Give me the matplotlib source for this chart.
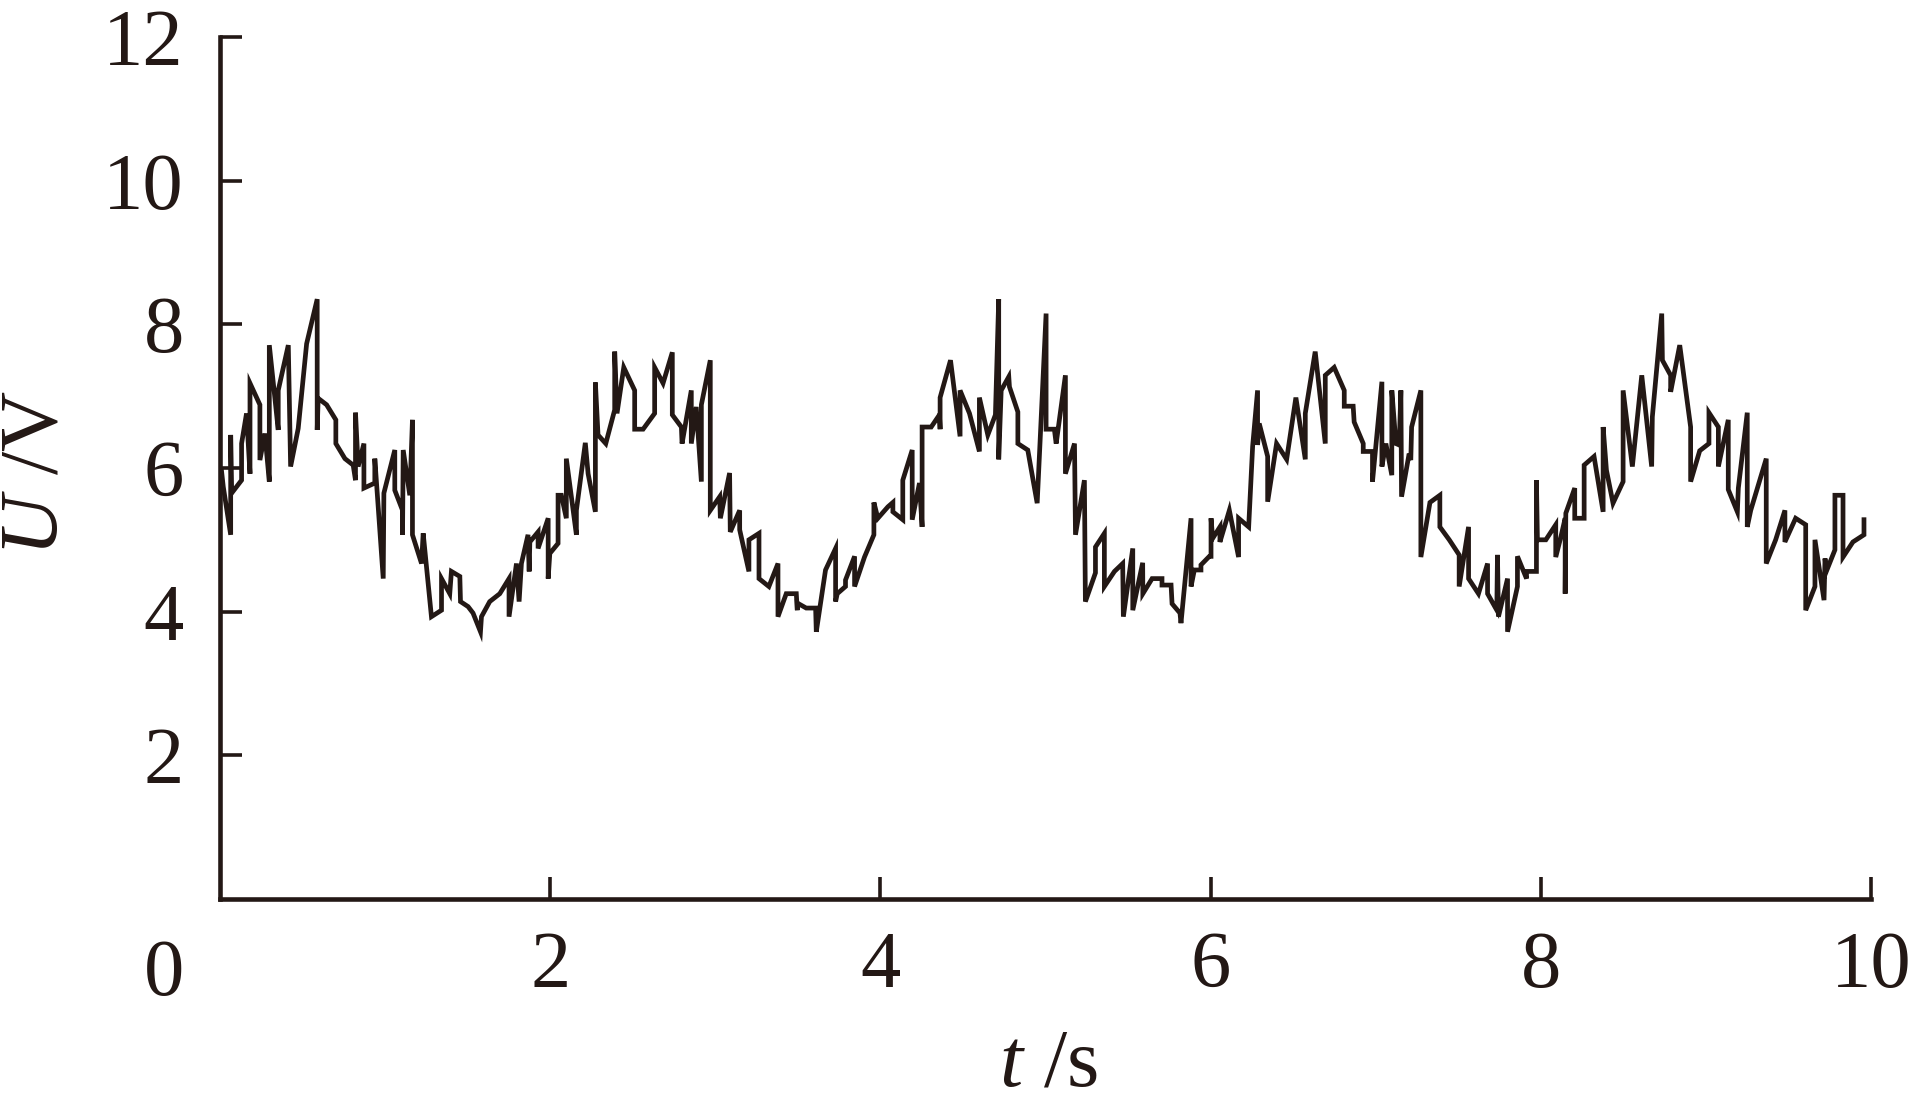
import matplotlib
matplotlib.use("Agg")
import matplotlib.pyplot as plt

plt.rcParams['font.family'] = ['Liberation Serif', 'DejaVu Serif']
plt.rcParams['mathtext.fontset'] = 'custom'
plt.rcParams['mathtext.rm'] = 'Liberation Serif'
plt.rcParams['mathtext.it'] = 'Liberation Serif:italic'

INK = '#231815'

# time (s)
t = [0.01, 0.02, 0.065, 0.065, 0.071, 0.131, 0.131, 0.161, 0.182, 0.182, 0.242, 0.242, 0.272, 0.299, 0.299,
     0.353, 0.353, 0.414, 0.42, 0.428, 0.474, 0.525, 0.589, 0.589, 0.595, 0.646, 0.702, 0.702, 0.757, 0.807,
     0.821, 0.821, 0.837, 0.872, 0.872, 0.938, 0.938, 0.989, 0.993, 1.059, 1.059, 1.106, 1.106, 1.110, 1.150,
     1.166, 1.166, 1.221, 1.231, 1.281, 1.342, 1.342, 1.392, 1.402, 1.453, 1.457, 1.503, 1.533, 1.578, 1.584,
     1.634, 1.695, 1.751, 1.751, 1.796, 1.812, 1.826, 1.866, 1.873, 1.877, 1.927, 1.927, 1.988, 1.988, 1.998,
     2.048, 2.048, 2.068, 2.098, 2.098, 2.159, 2.159, 2.213, 2.230, 2.274, 2.274, 2.290, 2.337, 2.391, 2.391,
     2.405, 2.446, 2.512, 2.512, 2.563, 2.633, 2.633, 2.684, 2.740, 2.740, 2.795, 2.799, 2.855, 2.855, 2.885,
     2.916, 2.916, 2.970, 2.970, 3.027, 3.031, 3.087, 3.091, 3.148, 3.148, 3.204, 3.204, 3.265, 3.265, 3.325,
     3.380, 3.380, 3.430, 3.491, 3.497, 3.497, 3.551, 3.608, 3.612, 3.668, 3.729, 3.729, 3.739, 3.789, 3.789,
     3.844, 3.844, 3.904, 3.961, 3.961, 3.985, 4.046, 4.076, 4.076, 4.136, 4.136, 4.193, 4.193, 4.237, 4.253,
     4.253, 4.308, 4.358, 4.362, 4.362, 4.425, 4.483, 4.483, 4.540, 4.600, 4.600, 4.651, 4.697, 4.717, 4.717,
     4.732, 4.778, 4.782, 4.833, 4.833, 4.893, 4.950, 5.004, 5.004, 5.054, 5.065, 5.121, 5.121, 5.176, 5.182,
     5.236, 5.242, 5.303, 5.303, 5.357, 5.357, 5.418, 5.468, 5.472, 5.529, 5.529, 5.589, 5.590, 5.646, 5.706,
     5.706, 5.761, 5.767, 5.815, 5.821, 5.882, 5.882, 5.902, 5.942, 5.942, 5.993, 6.003, 6.003, 6.013, 6.057,
     6.057, 6.114, 6.170, 6.170, 6.231, 6.255, 6.285, 6.285, 6.295, 6.346, 6.346, 6.400, 6.461, 6.517, 6.574,
     6.574, 6.634, 6.695, 6.695, 6.749, 6.810, 6.810, 6.864, 6.870, 6.925, 6.925, 6.981, 6.981, 7.038, 7.038,
     7.062, 7.098, 7.098, 7.123, 7.143, 7.153, 7.157, 7.203, 7.213, 7.218, 7.274, 7.274, 7.329, 7.389, 7.389,
     7.446, 7.506, 7.506, 7.563, 7.563, 7.623, 7.678, 7.678, 7.734, 7.738, 7.744, 7.799, 7.799, 7.859, 7.859,
     7.914, 7.914, 7.974, 7.974, 7.980, 8.031, 8.091, 8.091, 8.122, 8.148, 8.148, 8.152, 8.206, 8.206, 8.263,
     8.263, 8.323, 8.378, 8.378, 8.398, 8.438, 8.499, 8.499, 8.555, 8.612, 8.672, 8.676, 8.733, 8.737, 8.787,
     8.787, 8.842, 8.908, 8.908, 8.963, 9.019, 9.019, 9.076, 9.076, 9.136, 9.136, 9.191, 9.197, 9.251, 9.251,
     9.272, 9.366, 9.366, 9.423, 9.479, 9.479, 9.544, 9.605, 9.605, 9.661, 9.661, 9.716, 9.722, 9.730, 9.782,
     9.782, 9.831, 9.831, 9.891, 9.958, 9.958]

# voltage (V)
u = [5.95, 5.74, 5.07, 6.46, 5.65, 5.83, 6.34, 6.76, 5.92, 7.18, 6.88, 6.11, 6.48, 5.81, 7.71,
     6.53, 7.08, 7.71, 6.97, 6.02, 6.55, 7.73, 8.35, 6.53, 6.97, 6.88, 6.67, 6.34, 6.13, 6.04,
     5.83, 6.77, 6.02, 6.34, 5.72, 5.79, 6.13, 4.46, 5.65, 6.25, 5.69, 5.41, 5.07, 6.25, 5.62,
     6.67, 5.07, 4.67, 5.09, 3.93, 4.02, 4.46, 4.25, 4.56, 4.49, 4.14, 4.07, 3.98, 3.72, 3.93,
     4.14, 4.25, 4.46, 3.93, 4.67, 4.14, 4.67, 5.07, 4.56, 4.97, 5.11, 4.88, 5.30, 4.46, 4.81,
     4.95, 5.62, 5.62, 5.30, 6.13, 5.07, 5.41, 6.35, 5.92, 5.39, 7.19, 6.46, 6.34, 6.81, 7.62,
     6.76, 7.40, 7.08, 6.54, 6.54, 6.76, 7.40, 7.18, 7.61, 6.74, 6.57, 6.34, 7.08, 6.34, 6.85,
     5.81, 6.88, 7.50, 5.41, 5.60, 5.30, 5.93, 5.11, 5.41, 5.14, 4.56, 5.00, 5.09, 4.46, 4.35,
     4.67, 3.93, 4.25, 4.25, 4.02, 4.12, 4.05, 4.05, 3.72, 4.58, 4.88, 4.14, 4.25, 4.35, 4.44,
     4.77, 4.35, 4.76, 5.07, 5.52, 5.30, 5.46, 5.52, 5.39, 5.28, 5.83, 6.25, 5.28, 5.79, 5.18,
     6.57, 6.57, 6.74, 6.54, 6.98, 7.50, 6.44, 7.08, 6.76, 6.23, 6.98, 6.46, 6.74, 8.35, 6.12,
     7.08, 7.27, 7.13, 6.78, 6.34, 6.25, 5.51, 8.15, 6.54, 6.54, 6.34, 7.29, 5.92, 6.34, 5.07,
     5.83, 4.14, 4.54, 4.90, 5.09, 4.35, 4.56, 4.67, 3.93, 4.88, 4.02, 4.68, 4.25, 4.46, 4.46,
     4.37, 4.37, 4.11, 3.98, 3.84, 5.30, 4.35, 4.58, 4.58, 4.65, 4.77, 4.77, 5.30, 5.02, 5.18,
     4.97, 5.41, 4.76, 5.30, 5.18, 6.30, 7.08, 6.32, 6.62, 6.16, 5.53, 6.34, 6.12, 6.98, 6.12,
     6.76, 7.62, 6.34, 7.29, 7.40, 7.08, 6.86, 6.86, 6.64, 6.34, 6.23, 6.23, 5.81, 7.20, 6.02,
     6.34, 5.90, 7.08, 6.34, 6.32, 7.08, 5.60, 6.20, 6.11, 6.57, 7.08, 4.76, 5.52, 5.62, 5.18,
     5.00, 4.79, 4.35, 5.18, 4.46, 4.25, 4.67, 4.25, 4.02, 4.79, 3.93, 4.46, 3.72, 4.35, 4.77,
     4.46, 4.56, 4.56, 5.83, 5.00, 5.00, 5.21, 4.76, 5.04, 5.30, 4.25, 5.37, 5.72, 5.30, 5.30,
     6.04, 6.16, 5.39, 6.57, 5.97, 5.51, 5.81, 7.08, 6.02, 7.29, 6.02, 6.71, 8.15, 7.50, 7.29,
     7.06, 7.71, 6.57, 5.81, 6.24, 6.34, 6.77, 6.57, 6.02, 6.67, 5.70, 5.39, 5.72, 6.77, 5.18,
     5.41, 6.13, 4.67, 5.00, 5.41, 4.97, 5.30, 5.21, 4.02, 4.35, 5.00, 4.16, 4.74, 4.56, 4.86,
     5.62, 5.62, 4.76, 4.97, 5.07, 5.28]

xticks = [2, 4, 6, 8, 10]
yticks = [2, 4, 6, 8, 10, 12]

fig = plt.figure(figsize=(19.26, 11.01), dpi=100)
ax = fig.add_axes([0.1142, 0.1835, 0.8572, 0.7829])
ax.plot(t, u, color=INK, linewidth=3.4, solid_joinstyle='miter')

ax.set_xlim(0, 10)
ax.set_ylim(0, 12)
ax.set_xticks(xticks)
ax.set_yticks(yticks)
ax.set_xticklabels([str(v) for v in xticks])
ax.set_yticklabels([str(v) for v in yticks])
for s in ['top', 'right']:
    ax.spines[s].set_visible(False)
for s in ['left', 'bottom']:
    ax.spines[s].set_linewidth(3.3)
    ax.spines[s].set_color(INK)
ax.tick_params(axis='both', direction='in', length=16, width=2.6, color=INK,
               labelsize=58, labelcolor=INK)
ax.tick_params(axis='x', pad=23)
ax.tick_params(axis='y', pad=26)

ax.text(-0.0218, -0.0893, '0', transform=ax.transAxes, ha='right', va='center',
        fontsize=58, color=INK)
ax.text(0.5015, -0.193, r'$\mathit{t}$ /s', transform=ax.transAxes, ha='center', va='center',
        fontsize=60, color=INK)
ax.text(-0.1108, 0.494, r'$\mathit{U}$ /V', transform=ax.transAxes, ha='center', va='center',
        rotation=90, fontsize=60, color=INK)

fig.savefig('out.png', dpi=100)
